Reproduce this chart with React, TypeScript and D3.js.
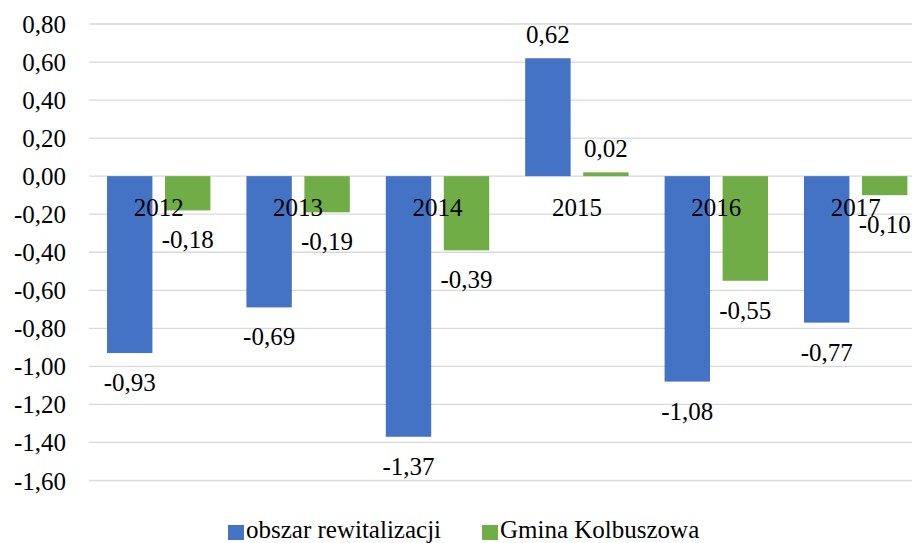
import React from "react";
import * as d3 from "d3";

const categories = ["2012", "2013", "2014", "2015", "2016", "2017"];
const seriesNames = ["obszar rewitalizacji", "Gmina Kolbuszowa"];
const obszar = [-0.93, -0.69, -1.37, 0.62, -1.08, -0.77];
const gmina = [-0.18, -0.19, -0.39, 0.02, -0.55, -0.1];
const yTicks = [0.8, 0.6, 0.4, 0.2, 0, -0.2, -0.4, -0.6, -0.8, -1.0, -1.2, -1.4, -1.6];
const colors = ["#4472C4", "#70AD47"];

const W = 912;
const H = 543;
const FONT = '"Liberation Serif", "Times New Roman", Times, serif';
const ts: React.CSSProperties = { fontFamily: FONT, fontSize: "25px" };

const fmt = (v: number) => v.toFixed(2).replace(".", ",");

export default function App() {
  const y = d3.scaleLinear().domain([-1.6, 0.8]).range([480.5, 24]);
  const x = d3.scaleBand<string>().domain(categories).range([89, 925.4]).paddingInner(0).paddingOuter(0);
  const inner = d3
    .scaleBand<number>()
    .domain([0, 1])
    .range([18, x.bandwidth() - 18])
    .paddingInner(0.217);
  const series = [obszar, gmina];

  return (
    <svg
      width={W}
      height={H}
      style={{ position: "absolute", left: 0, top: 0, background: "#fff", fontFamily: FONT }}
    >
      <rect width={W} height={H} fill="#fff" />
      {yTicks.map((t) => (
        <g key={t}>
          <line x1={89} x2={W} y1={y(t)} y2={y(t)} stroke="#D9D9D9" strokeWidth={1.3} />
          <text x={66} y={y(t) + 9} textAnchor="end" style={ts} fill="#000">
            {fmt(t)}
          </text>
        </g>
      ))}
      {series.map((vals, si) =>
        vals.map((v, i) => {
          const bx = (x(categories[i]) as number) + (inner(si) as number);
          const y0 = y(0);
          const y1 = y(v);
          return (
            <rect
              key={`${si}-${i}`}
              x={bx}
              y={Math.min(y0, y1)}
              width={inner.bandwidth()}
              height={Math.abs(y1 - y0)}
              fill={colors[si]}
            />
          );
        })
      )}
      {categories.map((c) => (
        <text
          key={c}
          x={(x(c) as number) + x.bandwidth() / 2}
          y={216}
          textAnchor="middle"
          style={ts}
          fill="#000"
        >
          {c}
        </text>
      ))}
      {series.map((vals, si) =>
        vals.map((v, i) => {
          const cx = (x(categories[i]) as number) + (inner(si) as number) + inner.bandwidth() / 2;
          const ty = v >= 0 ? y(v) - 15 : y(v) + 38;
          return (
            <text key={`l-${si}-${i}`} x={cx} y={ty} textAnchor="middle" style={ts} fill="#000">
              {fmt(v)}
            </text>
          );
        })
      )}
      {seriesNames.map((n, si) => {
        const lx = si === 0 ? 228 : 482;
        return (
          <g key={n}>
            <rect x={lx} y={525} width={16} height={15} fill={colors[si]} />
            <text x={lx + 18} y={538} style={ts} fill="#000">
              {n}
            </text>
          </g>
        );
      })}
    </svg>
  );
}
